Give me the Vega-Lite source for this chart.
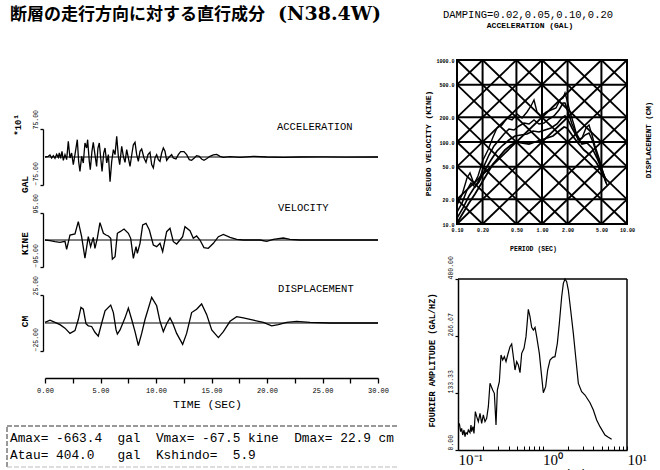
{
  "$schema": "https://vega.github.io/schema/vega-lite/v6.json",
  "width": 660,
  "height": 470,
  "autosize": "none",
  "padding": 0,
  "background": "white",
  "config": {
    "view": {"stroke": null},
    "axis": {
      "labelColor": "black",
      "titleColor": "black",
      "domainColor": "black",
      "tickColor": "black",
      "labelFont": "Liberation Mono",
      "titleFont": "Liberation Mono",
      "grid": false,
      "labelFlush": false,
      "labelOverlap": false,
      "labelBound": false,
      "titleFontWeight": "normal"
    },
    "text": {"font": "Liberation Mono", "color": "black"},
    "line": {"color": "black"},
    "rule": {"color": "black"}
  },
  "datasets": {
    "accel": [
      {"t":0,"a":0},{"t":0.3,"a":1.8},{"t":0.45,"a":5.4},{"t":0.6,"a":-2.7},{"t":0.75,"a":3.6},{"t":0.9,"a":-3.6},
      {"t":1.05,"a":7.1},{"t":1.2,"a":-0.9},{"t":1.29,"a":10.7},{"t":1.41,"a":-3.6},{"t":1.53,"a":15.2},{"t":1.65,"a":-8.9},
      {"t":1.8,"a":6.3},{"t":1.95,"a":-7.1},{"t":2.1,"a":42},{"t":2.25,"a":-2.7},{"t":2.4,"a":10.7},{"t":2.55,"a":-20.5},
      {"t":2.7,"a":6.3},{"t":2.91,"a":46.4},{"t":3.03,"a":-11.6},{"t":3.15,"a":-38.4},{"t":3.3,"a":1.8},{"t":3.45,"a":-16},
      {"t":3.6,"a":37.5},{"t":3.75,"a":24},{"t":3.84,"a":46.4},{"t":3.99,"a":-11.6},{"t":4.08,"a":-34},{"t":4.23,"a":15.2},
      {"t":4.35,"a":39.3},{"t":4.5,"a":6.3},{"t":4.65,"a":-25},{"t":4.77,"a":24},{"t":4.89,"a":37.5},{"t":5.02,"a":-2.7},
      {"t":5.14,"a":-38.4},{"t":5.29,"a":10.7},{"t":5.41,"a":24},{"t":5.56,"a":-16},{"t":5.71,"a":6.3},{"t":5.86,"a":-66.34},
      {"t":6.01,"a":-11.6},{"t":6.16,"a":19.6},{"t":6.31,"a":6.3},{"t":6.46,"a":55.4},{"t":6.61,"a":1.8},{"t":6.73,"a":-20.5},
      {"t":6.91,"a":28.6},{"t":7.06,"a":1.8},{"t":7.21,"a":-14.3},{"t":7.36,"a":19.6},{"t":7.54,"a":-7.1},{"t":7.66,"a":-25},
      {"t":7.84,"a":10.7},{"t":7.96,"a":33},{"t":8.11,"a":39.3},{"t":8.26,"a":6.3},{"t":8.41,"a":-11.6},{"t":8.56,"a":15.2},
      {"t":8.71,"a":21.4},{"t":8.92,"a":-2.7},{"t":9.1,"a":-14.3},{"t":9.28,"a":6.3},{"t":9.46,"a":12.5},{"t":9.61,"a":-20.5},
      {"t":9.76,"a":-29.5},{"t":9.91,"a":-2.7},{"t":10.06,"a":6.3},{"t":10.21,"a":-7.1},{"t":10.36,"a":-11.6},{"t":10.51,"a":10.7},
      {"t":10.66,"a":24},{"t":10.81,"a":15.2},{"t":10.96,"a":-8.9},{"t":11.11,"a":-2.7},{"t":11.26,"a":1.8},{"t":11.41,"a":6.3},
      {"t":11.56,"a":-2.7},{"t":11.8,"a":-5.4},{"t":12.01,"a":6.3},{"t":12.22,"a":14.3},{"t":12.52,"a":14.3},{"t":12.76,"a":6.3},
      {"t":13.0,"a":-7.1},{"t":13.21,"a":-8.9},{"t":13.45,"a":-2.7},{"t":13.66,"a":3.6},{"t":13.9,"a":1.8},{"t":14.11,"a":-5.4},
      {"t":14.32,"a":-8.9},{"t":14.56,"a":-4.5},{"t":14.86,"a":1.8},{"t":15.17,"a":5.4},{"t":15.47,"a":7.1},{"t":15.77,"a":1.8},
      {"t":16.07,"a":-0.9},{"t":16.67,"a":0.9},{"t":17.57,"a":-0.9},{"t":18.77,"a":1.8},{"t":19.97,"a":0},{"t":21.47,"a":-0.9},
      {"t":22.97,"a":0},{"t":25,"a":0.5},{"t":27,"a":-0.3},{"t":30,"a":0}
    ],
    "vel": [
      {"t":0,"v":0},{"t":0.45,"v":-2.3},{"t":0.9,"v":-5.9},{"t":1.35,"v":-8.2},{"t":1.8,"v":-4.7},{"t":1.95,"v":-32.8},
      {"t":2.25,"v":17.6},{"t":2.7,"v":21.1},{"t":3.0,"v":64.5},{"t":3.3,"v":11.7},{"t":3.6,"v":-64},{"t":3.9,"v":11.7},
      {"t":4.11,"v":-23.5},{"t":4.35,"v":9.4},{"t":4.5,"v":-29.3},{"t":4.71,"v":5.9},{"t":4.95,"v":61},{"t":5.26,"v":23.5},
      {"t":5.5,"v":17.6},{"t":5.71,"v":14.1},{"t":5.92,"v":5.9},{"t":6.07,"v":-67.5},{"t":6.31,"v":-58.7},{"t":6.52,"v":23.5},
      {"t":6.76,"v":29.3},{"t":7.12,"v":38.7},{"t":7.51,"v":23.5},{"t":7.72,"v":5.9},{"t":7.96,"v":-64.5},{"t":8.2,"v":-23.5},
      {"t":8.32,"v":-46.9},{"t":8.56,"v":-11.7},{"t":8.8,"v":52.8},{"t":9.1,"v":58.7},{"t":9.4,"v":35.2},{"t":9.76,"v":-17.6},
      {"t":10.06,"v":-23.5},{"t":10.36,"v":-11.7},{"t":10.6,"v":-41},{"t":10.96,"v":29.3},{"t":11.26,"v":41},{"t":11.56,"v":-5.9},
      {"t":11.86,"v":-14.1},{"t":12.16,"v":0},{"t":12.4,"v":11.7},{"t":12.61,"v":46.9},{"t":13.06,"v":32.8},{"t":13.36,"v":5.9},
      {"t":13.66,"v":14.1},{"t":13.96,"v":0},{"t":14.32,"v":-27},{"t":14.71,"v":-29.3},{"t":15.17,"v":-11.7},{"t":15.62,"v":11.7},
      {"t":16.07,"v":19.9},{"t":16.67,"v":9.4},{"t":17.27,"v":2.3},{"t":17.87,"v":0},{"t":19.37,"v":0},{"t":19.97,"v":-4.7},
      {"t":20.57,"v":2.3},{"t":21.47,"v":7},{"t":22.07,"v":2.3},{"t":22.97,"v":0},{"t":25.68,"v":0},{"t":30,"v":0}
    ],
    "disp": [
      {"t":0,"d":0.6},{"t":0.45,"d":2.5},{"t":0.9,"d":0.6},{"t":1.35,"d":-1.5},{"t":1.8,"d":-4.6},{"t":2.25,"d":-9.3},
      {"t":2.7,"d":-6.8},{"t":3.0,"d":3.1},{"t":3.24,"d":13.9},{"t":3.45,"d":12.3},{"t":3.69,"d":-0.6},{"t":3.9,"d":-2.5},
      {"t":4.2,"d":-3.1},{"t":4.5,"d":-8.3},{"t":4.8,"d":-11.7},{"t":5.11,"d":0},{"t":5.41,"d":10.8},{"t":5.92,"d":16},
      {"t":6.16,"d":9.3},{"t":6.4,"d":-6.2},{"t":6.52,"d":-9.9},{"t":6.76,"d":-6.2},{"t":7.21,"d":4.6},{"t":7.51,"d":13.3},
      {"t":7.81,"d":3.1},{"t":8.11,"d":-7.7},{"t":8.41,"d":-20.1},{"t":8.71,"d":-9.3},{"t":9.01,"d":3.1},{"t":9.61,"d":22.9},
      {"t":10.06,"d":15.4},{"t":10.36,"d":1.5},{"t":10.66,"d":-7.7},{"t":10.96,"d":-0.6},{"t":11.26,"d":4.6},{"t":11.5,"d":0},
      {"t":11.86,"d":-9.3},{"t":12.4,"d":-19.1},{"t":12.76,"d":-9.3},{"t":13.21,"d":9.3},{"t":13.66,"d":12.3},{"t":14.11,"d":17},
      {"t":14.56,"d":7.7},{"t":15.02,"d":-6.2},{"t":15.62,"d":-13},{"t":16.07,"d":-7.7},{"t":16.67,"d":1.5},{"t":17.27,"d":5.6},
      {"t":17.87,"d":4.6},{"t":18.77,"d":2.5},{"t":19.67,"d":0.6},{"t":20.42,"d":-2.5},{"t":21.02,"d":-1.5},{"t":21.77,"d":0.6},
      {"t":22.67,"d":1.5},{"t":23.87,"d":0.6},{"t":25.68,"d":0},{"t":30,"d":0}
    ],
    "gridT": [{"T":0.1},{"T":0.2},{"T":0.5},{"T":1},{"T":2},{"T":5},{"T":10}],
    "gridV": [{"V":10},{"V":20},{"V":50},{"V":100},{"V":200},{"V":500},{"V":1000}],
    "diag": [
      {"g":"A2","T":5,"V":10},{"g":"A2","T":10,"V":20},
      {"g":"A5","T":2,"V":10},{"g":"A5","T":10,"V":50},
      {"g":"A10","T":1,"V":10},{"g":"A10","T":10,"V":100},
      {"g":"A20","T":0.5,"V":10},{"g":"A20","T":10,"V":200},
      {"g":"A50","T":0.2,"V":10},{"g":"A50","T":10,"V":500},
      {"g":"A100","T":0.1,"V":10},{"g":"A100","T":10,"V":1000},
      {"g":"A200","T":0.1,"V":20},{"g":"A200","T":5,"V":1000},
      {"g":"A500","T":0.1,"V":50},{"g":"A500","T":2,"V":1000},
      {"g":"A1000","T":0.1,"V":100},{"g":"A1000","T":1,"V":1000},
      {"g":"A2000","T":0.1,"V":200},{"g":"A2000","T":0.5,"V":1000},
      {"g":"A5000","T":0.1,"V":500},{"g":"A5000","T":0.2,"V":1000},
      {"g":"D2","T":0.1,"V":20},{"g":"D2","T":0.2,"V":10},
      {"g":"D5","T":0.1,"V":50},{"g":"D5","T":0.5,"V":10},
      {"g":"D10","T":0.1,"V":100},{"g":"D10","T":1,"V":10},
      {"g":"D20","T":0.1,"V":200},{"g":"D20","T":2,"V":10},
      {"g":"D50","T":0.1,"V":500},{"g":"D50","T":5,"V":10},
      {"g":"D100","T":0.1,"V":1000},{"g":"D100","T":10,"V":10},
      {"g":"D200","T":0.2,"V":1000},{"g":"D200","T":10,"V":20},
      {"g":"D500","T":0.5,"V":1000},{"g":"D500","T":10,"V":50},
      {"g":"D1000","T":1,"V":1000},{"g":"D1000","T":10,"V":100},
      {"g":"D2000","T":2,"V":1000},{"g":"D2000","T":10,"V":200},
      {"g":"D5000","T":5,"V":1000},{"g":"D5000","T":10,"V":500}
    ],
    "psv": [
      {"h":"0.02","T":0.1,"V":17.0},{"h":"0.02","T":0.1145,"V":22.6},{"h":"0.02","T":0.1311,"V":36.4},{"h":"0.02","T":0.1422,"V":41.9},
      {"h":"0.02","T":0.1585,"V":30.7},{"h":"0.02","T":0.1766,"V":38.5},{"h":"0.02","T":0.2023,"V":60.3},{"h":"0.02","T":0.2315,"V":79.9},
      {"h":"0.02","T":0.2652,"V":115.1},{"h":"0.02","T":0.2955,"V":148.2},{"h":"0.02","T":0.3384,"V":161.2},{"h":"0.02","T":0.3875,"V":196.2},
      {"h":"0.02","T":0.4437,"V":185.5},{"h":"0.02","T":0.508,"V":219.5},{"h":"0.02","T":0.5817,"V":196.2},{"h":"0.02","T":0.6661,"V":232.2},
      {"h":"0.02","T":0.7422,"V":274.8},{"h":"0.02","T":0.8052,"V":325.2},{"h":"0.02","T":0.8733,"V":232.2},{"h":"0.02","T":0.9733,"V":207.6},
      {"h":"0.02","T":1.1144,"V":232.2},{"h":"0.02","T":1.2761,"V":245.6},{"h":"0.02","T":1.4613,"V":259.8},{"h":"0.02","T":1.6285,"V":325.2},
      {"h":"0.02","T":1.7664,"V":344.1},{"h":"0.02","T":1.8648,"V":396},{"h":"0.02","T":1.9686,"V":325.2},{"h":"0.02","T":2.1353,"V":232.2},
      {"h":"0.02","T":2.3797,"V":161.2},{"h":"0.02","T":2.6519,"V":105.8},{"h":"0.02","T":2.9554,"V":111.9},{"h":"0.02","T":3.2937,"V":148.2},
      {"h":"0.02","T":3.5727,"V":161.2},{"h":"0.02","T":3.8751,"V":121.7},{"h":"0.02","T":4.2026,"V":89.4},{"h":"0.02","T":4.6837,"V":63.8},
      {"h":"0.02","T":5.2197,"V":43.1},{"h":"0.02","T":5.6617,"V":31.6},
      {"h":"0.05","T":0.1,"V":14.0},{"h":"0.05","T":0.1145,"V":18.0},{"h":"0.05","T":0.1311,"V":26.0},{"h":"0.05","T":0.1461,"V":31.6},
      {"h":"0.05","T":0.1628,"V":28.3},{"h":"0.05","T":0.1815,"V":34.4},{"h":"0.05","T":0.2078,"V":50.9},{"h":"0.05","T":0.2379,"V":69.4},
      {"h":"0.05","T":0.2724,"V":89.4},{"h":"0.05","T":0.312,"V":105.8},{"h":"0.05","T":0.3573,"V":125.2},{"h":"0.05","T":0.4091,"V":144.1},
      {"h":"0.05","T":0.4684,"V":140.1},{"h":"0.05","T":0.5363,"V":156.7},{"h":"0.05","T":0.614,"V":170.5},{"h":"0.05","T":0.7032,"V":165.8},
      {"h":"0.05","T":0.8052,"V":185.5},{"h":"0.05","T":0.922,"V":165.8},{"h":"0.05","T":1.0556,"V":170.5},{"h":"0.05","T":1.2088,"V":190.8},
      {"h":"0.05","T":1.3842,"V":207.6},{"h":"0.05","T":1.5849,"V":245.6},{"h":"0.05","T":1.7664,"V":299},{"h":"0.05","T":1.8648,"V":299},
      {"h":"0.05","T":2.0227,"V":232.2},{"h":"0.05","T":2.2542,"V":165.8},{"h":"0.05","T":2.5119,"V":128.8},{"h":"0.05","T":2.7996,"V":105.8},
      {"h":"0.05","T":3.2057,"V":121.7},{"h":"0.05","T":3.5727,"V":128.8},{"h":"0.05","T":3.9811,"V":100},{"h":"0.05","T":4.4367,"V":69.4},
      {"h":"0.05","T":4.9443,"V":48.2},{"h":"0.05","T":5.5103,"V":34.4},{"h":"0.05","T":5.8172,"V":29.9},
      {"h":"0.10","T":0.1,"V":11.8},{"h":"0.10","T":0.1177,"V":15.7},{"h":"0.10","T":0.1384,"V":22.0},{"h":"0.10","T":0.1585,"V":27.5},
      {"h":"0.10","T":0.1815,"V":32.5},{"h":"0.10","T":0.2135,"V":45.6},{"h":"0.10","T":0.2512,"V":60.3},{"h":"0.10","T":0.2955,"V":77.7},
      {"h":"0.10","T":0.3477,"V":91.9},{"h":"0.10","T":0.4091,"V":105.8},{"h":"0.10","T":0.4812,"V":118.4},{"h":"0.10","T":0.5662,"V":121.7},
      {"h":"0.10","T":0.6661,"V":125.2},{"h":"0.10","T":0.7837,"V":136.2},{"h":"0.10","T":0.922,"V":132.4},{"h":"0.10","T":1.0846,"V":140.1},
      {"h":"0.10","T":1.2761,"V":148.2},{"h":"0.10","T":1.5014,"V":165.8},{"h":"0.10","T":1.7192,"V":196.2},{"h":"0.10","T":1.8648,"V":207.6},
      {"h":"0.10","T":2.0227,"V":185.5},{"h":"0.10","T":2.2542,"V":148.2},{"h":"0.10","T":2.581,"V":115.1},{"h":"0.10","T":2.9554,"V":94.5},
      {"h":"0.10","T":3.3843,"V":97.2},{"h":"0.10","T":3.8751,"V":84.5},{"h":"0.10","T":4.4367,"V":63.8},{"h":"0.10","T":5.0802,"V":45.6},
      {"h":"0.10","T":5.6617,"V":34.4},
      {"h":"0.20","T":0.1,"V":10.3},{"h":"0.20","T":0.1177,"V":13.6},{"h":"0.20","T":0.1384,"V":18.0},{"h":"0.20","T":0.1628,"V":23.2},
      {"h":"0.20","T":0.1917,"V":30.7},{"h":"0.20","T":0.2254,"V":40.7},{"h":"0.20","T":0.2652,"V":53.9},{"h":"0.20","T":0.312,"V":65.6},
      {"h":"0.20","T":0.367,"V":79.9},{"h":"0.20","T":0.4318,"V":91.9},{"h":"0.20","T":0.508,"V":100},{"h":"0.20","T":0.5976,"V":97.2},
      {"h":"0.20","T":0.7032,"V":94.5},{"h":"0.20","T":0.8272,"V":100},{"h":"0.20","T":0.9733,"V":105.8},{"h":"0.20","T":1.145,"V":111.9},
      {"h":"0.20","T":1.3472,"V":118.4},{"h":"0.20","T":1.5849,"V":136.2},{"h":"0.20","T":1.8149,"V":152.4},{"h":"0.20","T":1.9686,"V":148.2},
      {"h":"0.20","T":2.2542,"V":121.7},{"h":"0.20","T":2.6519,"V":97.2},{"h":"0.20","T":3.1199,"V":79.9},{"h":"0.20","T":3.6708,"V":69.4},
      {"h":"0.20","T":4.3181,"V":57.0},{"h":"0.20","T":5.0802,"V":43.1},{"h":"0.20","T":5.6617,"V":34.4}
    ],
    "fourier": [
      {"f":0.1037,"A":62.4},{"f":0.1075,"A":42.9},{"f":0.1105,"A":50.7},{"f":0.1136,"A":35.1},{"f":0.1178,"A":46.8},
      {"f":0.121,"A":31.2},{"f":0.1243,"A":40.5},{"f":0.1289,"A":37.4},{"f":0.1325,"A":46.8},{"f":0.1387,"A":40.5},
      {"f":0.1425,"A":58.5},{"f":0.145,"A":42.9},{"f":0.1504,"A":54.6},{"f":0.1546,"A":38.6},{"f":0.1604,"A":89.7},
      {"f":0.1664,"A":78},{"f":0.174,"A":66.3},{"f":0.1822,"A":85.8},{"f":0.1906,"A":62.4},{"f":0.1994,"A":81.9},
      {"f":0.2087,"A":66.3},{"f":0.2184,"A":74},{"f":0.2286,"A":101.3},{"f":0.2392,"A":156},{"f":0.2573,"A":140.3},
      {"f":0.2692,"A":132.6},{"f":0.2818,"A":58.5},{"f":0.2922,"A":140.3},{"f":0.3085,"A":159.8},{"f":0.3229,"A":222.2},
      {"f":0.3379,"A":210.5},{"f":0.3535,"A":218.3},{"f":0.3699,"A":206.6},{"f":0.3872,"A":222.2},{"f":0.4126,"A":241.7},
      {"f":0.4318,"A":247.9},{"f":0.4518,"A":218.3},{"f":0.4729,"A":187.1},{"f":0.4949,"A":206.6},{"f":0.5179,"A":198.8},
      {"f":0.5419,"A":180.9},{"f":0.5672,"A":226.1},{"f":0.6041,"A":237.8},{"f":0.6379,"A":265.1},{"f":0.6796,"A":329},
      {"f":0.7114,"A":311.9},{"f":0.7444,"A":286.9},{"f":0.7792,"A":280.7},{"f":0.8155,"A":286.9},{"f":0.8531,"A":265.1},
      {"f":0.9173,"A":226.1},{"f":0.9775,"A":171.5},{"f":1.0228,"A":134.1},{"f":1.0901,"A":148.1},{"f":1.1508,"A":187.1},
      {"f":1.2268,"A":210.5},{"f":1.3195,"A":216.8},{"f":1.4058,"A":218.3},{"f":1.4983,"A":249.5},{"f":1.5821,"A":296.3},
      {"f":1.6866,"A":358.6},{"f":1.7649,"A":389.8},{"f":1.8468,"A":400},{"f":1.932,"A":393.7},{"f":2.0217,"A":374.2},
      {"f":2.1544,"A":327.5},{"f":2.3173,"A":272.9},{"f":2.4918,"A":210.5},{"f":2.6556,"A":155.9},{"f":2.9076,"A":136.5},
      {"f":3.1842,"A":128.6},{"f":3.6488,"A":110.7},{"f":3.9958,"A":93.6},{"f":4.3752,"A":70.2},{"f":4.7915,"A":54.6},
      {"f":5.4904,"A":35.1},{"f":6.0117,"A":29.6},{"f":6.5826,"A":24.9}
    ],
    "stats": [
      {"line": 1, "text": "Amax= -663.4\u00a0\u00a0gal\u00a0\u00a0Vmax= -67.5 kine\u00a0\u00a0Dmax= 22.9 cm"},
      {"line": 2, "text": "Atau= 404.0\u00a0\u00a0\u00a0gal\u00a0\u00a0Kshindo=\u00a0\u00a05.9"}
    ],
    "heading": [
      {"part": "jp", "text": "断層の走行方向に対する直行成分"},
      {"part": "code", "text": "(N38.4W)"}
    ]
  },
  "layer": [
    {
      "layer": [
        {
          "data": {"values": [{"ref": "zero"}]},
          "mark": {"type": "rule", "strokeWidth": 1},
          "encoding": {
            "x": {"datum": 0, "type": "quantitative", "scale": {"domain": [0, 30], "range": [45, 378], "nice": false, "zero": false}, "axis": null},
            "x2": {"datum": 30},
            "y": {"datum": 0, "type": "quantitative", "scale": {"domain": [-75, 75], "range": [185, 129], "nice": false, "zero": false}}
          }
        },
        {
          "data": {"name": "accel"},
          "mark": {"type": "line", "strokeWidth": 1.3, "color": "black"},
          "encoding": {
            "x": {"field": "t", "type": "quantitative", "scale": {"domain": [0, 30], "range": [45, 378], "nice": false, "zero": false}, "axis": null},
            "y": {
              "field": "a", "type": "quantitative",
              "scale": {"domain": [-75, 75], "range": [185, 129], "nice": false, "zero": false},
              "axis": {
                "orient": "left", "offset": -43, "values": [-75, 75], "format": ".2f",
                "labelAngle": 270, "labelAlign": "left", "labelBaseline": "bottom", "labelFontSize": 6.5, "labelPadding": 2,
                "tickSize": 3, "tickWidth": 1.3, "domainWidth": 1.3,
                "title": "GAL", "titleAngle": 270, "titleX": -19, "titleY": 184, "titleAlign": "center", "titleBaseline": "middle",
                "titleFontSize": 9.5, "titleFontWeight": "bold"
              }
            }
          }
        },
        {
          "data": {"values": [{"label": "ACCELERATION"}]},
          "mark": {"type": "text", "align": "left", "baseline": "middle", "fontSize": 10.5},
          "encoding": {
            "x": {"datum": 20.9, "type": "quantitative", "scale": {"domain": [0, 30], "range": [45, 378], "nice": false, "zero": false}, "axis": null},
            "y": {"datum": 80, "type": "quantitative", "scale": {"domain": [-75, 75], "range": [185, 129], "nice": false, "zero": false}},
            "text": {"field": "label"}
          }
        },
        {
          "data": {"values": [{"label": "*10¹"}]},
          "mark": {"type": "text", "align": "center", "baseline": "middle", "angle": 270, "fontSize": 9, "fontWeight": "bold"},
          "encoding": {
            "x": {"datum": -2.4, "type": "quantitative", "scale": {"domain": [0, 30], "range": [45, 378], "nice": false, "zero": false}, "axis": null},
            "y": {"datum": 86, "type": "quantitative", "scale": {"domain": [-75, 75], "range": [185, 129], "nice": false, "zero": false}},
            "text": {"field": "label"}
          }
        },
        {
          "data": {"name": "heading"},
          "transform": [{"filter": "datum.part === 'jp'"}],
          "mark": {"type": "text", "align": "left", "baseline": "alphabetic", "fontSize": 17, "fontWeight": "bold", "font": "Noto Sans CJK JP"},
          "encoding": {
            "x": {"datum": -3.15, "type": "quantitative", "scale": {"domain": [0, 30], "range": [45, 378], "nice": false, "zero": false}, "axis": null},
            "y": {"datum": 367, "type": "quantitative", "scale": {"domain": [-75, 75], "range": [185, 129], "nice": false, "zero": false}},
            "text": {"field": "text"}
          }
        },
        {
          "data": {"name": "heading"},
          "transform": [{"filter": "datum.part === 'code'"}],
          "mark": {"type": "text", "align": "left", "baseline": "alphabetic", "fontSize": 19, "fontWeight": "bold", "font": "DejaVu Serif"},
          "encoding": {
            "x": {"datum": 21.0, "type": "quantitative", "scale": {"domain": [0, 30], "range": [45, 378], "nice": false, "zero": false}, "axis": null},
            "y": {"datum": 367, "type": "quantitative", "scale": {"domain": [-75, 75], "range": [185, 129], "nice": false, "zero": false}},
            "text": {"field": "text"}
          }
        }
      ]
    },
    {
      "layer": [
        {
          "data": {"values": [{"ref": "zero"}]},
          "mark": {"type": "rule", "strokeWidth": 1},
          "encoding": {
            "x": {"datum": 0, "type": "quantitative", "scale": {"domain": [0, 30], "range": [45, 378], "nice": false, "zero": false}, "axis": null},
            "x2": {"datum": 30},
            "y": {"datum": 0, "type": "quantitative", "scale": {"domain": [-95, 95], "range": [267, 213], "nice": false, "zero": false}}
          }
        },
        {
          "data": {"name": "vel"},
          "mark": {"type": "line", "strokeWidth": 1.3, "color": "black"},
          "encoding": {
            "x": {"field": "t", "type": "quantitative", "scale": {"domain": [0, 30], "range": [45, 378], "nice": false, "zero": false}, "axis": null},
            "y": {
              "field": "v", "type": "quantitative",
              "scale": {"domain": [-95, 95], "range": [267, 213], "nice": false, "zero": false},
              "axis": {
                "orient": "left", "offset": -43, "values": [-95, 95], "format": ".2f",
                "labelAngle": 270, "labelAlign": "left", "labelBaseline": "bottom", "labelFontSize": 6.5, "labelPadding": 2,
                "tickSize": 3, "tickWidth": 1.3, "domainWidth": 1.3,
                "title": "KINE", "titleAngle": 270, "titleX": -19, "titleY": 243, "titleAlign": "center", "titleBaseline": "middle",
                "titleFontSize": 9.5, "titleFontWeight": "bold"
              }
            }
          }
        },
        {
          "data": {"values": [{"label": "VELOCITY"}]},
          "mark": {"type": "text", "align": "left", "baseline": "middle", "fontSize": 10.5},
          "encoding": {
            "x": {"datum": 21, "type": "quantitative", "scale": {"domain": [0, 30], "range": [45, 378], "nice": false, "zero": false}, "axis": null},
            "y": {"datum": 112, "type": "quantitative", "scale": {"domain": [-95, 95], "range": [267, 213], "nice": false, "zero": false}},
            "text": {"field": "label"}
          }
        }
      ]
    },
    {
      "layer": [
        {
          "data": {"values": [{"ref": "zero"}]},
          "mark": {"type": "rule", "strokeWidth": 1},
          "encoding": {
            "x": {"datum": 0, "type": "quantitative", "scale": {"domain": [0, 30], "range": [45, 378], "nice": false, "zero": false}},
            "x2": {"datum": 30},
            "y": {"datum": 0, "type": "quantitative", "scale": {"domain": [-25, 25], "range": [351, 295], "nice": false, "zero": false}}
          }
        },
        {
          "data": {"name": "disp"},
          "mark": {"type": "line", "strokeWidth": 1.3, "color": "black"},
          "encoding": {
            "x": {
              "field": "t", "type": "quantitative",
              "scale": {"domain": [0, 30], "range": [45, 378], "nice": false, "zero": false},
              "axis": {
                "orient": "bottom", "offset": -92,
                "values": [0, 2.5, 5, 7.5, 10, 12.5, 15, 17.5, 20, 22.5, 25, 27.5, 30],
                "labelExpr": "datum.value % 5 === 0 ? format(datum.value, '.2f') : ''",
                "labelFontSize": 7, "labelPadding": 3, "tickSize": 5, "tickWidth": 1.3, "domainWidth": 1.5,
                "title": "TIME (SEC)", "titleX": 207, "titleY": 26, "titleAlign": "center", "titleBaseline": "middle", "titleFontSize": 11.5
              }
            },
            "y": {
              "field": "d", "type": "quantitative",
              "scale": {"domain": [-25, 25], "range": [351, 295], "nice": false, "zero": false},
              "axis": {
                "orient": "left", "offset": -43, "values": [-25, 25], "format": ".2f",
                "labelAngle": 270, "labelAlign": "left", "labelBaseline": "bottom", "labelFontSize": 6.5, "labelPadding": 2,
                "tickSize": 3, "tickWidth": 1.3, "domainWidth": 1.3,
                "title": "CM", "titleAngle": 270, "titleX": -19, "titleY": 321, "titleAlign": "center", "titleBaseline": "middle",
                "titleFontSize": 9.5, "titleFontWeight": "bold"
              }
            }
          }
        },
        {
          "data": {"values": [{"label": "DISPLACEMENT"}]},
          "mark": {"type": "text", "align": "left", "baseline": "middle", "fontSize": 10.5},
          "encoding": {
            "x": {"datum": 21, "type": "quantitative", "scale": {"domain": [0, 30], "range": [45, 378], "nice": false, "zero": false}},
            "y": {"datum": 30.6, "type": "quantitative", "scale": {"domain": [-25, 25], "range": [351, 295], "nice": false, "zero": false}},
            "text": {"field": "label"}
          }
        }
      ]
    },
    {
      "data": {"values": [{"edge": "top", "x0": 0, "x1": 1, "y0": 1, "y1": 1, "dash": "dark"}, {"edge": "left", "x0": 0, "x1": 0, "y0": 0, "y1": 1, "dash": "dark"}, {"edge": "bottom", "x0": 0, "x1": 1, "y0": 0, "y1": 0, "dash": "light"}]},
      "mark": {"type": "rule", "strokeWidth": 1, "strokeDash": [5, 2]},
      "encoding": {
        "x": {"field": "x0", "type": "quantitative", "scale": {"domain": [0, 1], "range": [7, 397], "nice": false, "zero": false}, "axis": null},
        "x2": {"field": "x1"},
        "y": {"field": "y0", "type": "quantitative", "scale": {"domain": [0, 1], "range": [467, 426], "nice": false, "zero": false}, "axis": null},
        "y2": {"field": "y1"},
        "color": {"field": "dash", "type": "nominal", "scale": {"domain": ["dark", "light"], "range": ["#333333", "#bbbbbb"]}, "legend": null}
      }
    },
    {
      "data": {"name": "stats"},
      "mark": {"type": "text", "align": "left", "baseline": "middle", "fontSize": 12.8, "font": "Liberation Mono"},
      "encoding": {
        "x": {"datum": 0, "type": "quantitative", "scale": {"domain": [0, 1], "range": [10, 397], "nice": false, "zero": false}, "axis": null},
        "y": {"field": "line", "type": "ordinal", "scale": {"type": "point", "domain": [1, 2], "range": [438, 455], "padding": 0}, "axis": null},
        "text": {"field": "text"}
      }
    },
    {
      "layer": [
        {
          "data": {"name": "gridT"},
          "mark": {"type": "rule", "strokeWidth": 2, "strokeCap": "square"},
          "encoding": {
            "x": {
              "field": "T", "type": "quantitative",
              "scale": {"type": "log", "domain": [0.1, 10], "range": [457, 627], "nice": false},
              "axis": {
                "orient": "bottom", "offset": -246, "values": [0.1, 0.2, 0.5, 1, 2, 5, 10], "format": ".2f",
                "labelFontSize": 5, "labelFontWeight": "bold", "labelPadding": 3, "ticks": false, "tickSize": 0, "domain": false,
                "title": "PERIOD (SEC)", "titleX": 533, "titleY": 24, "titleAlign": "center", "titleBaseline": "middle",
                "titleFontSize": 6.5, "titleFontWeight": "bold"
              }
            },
            "y": {"datum": 10, "type": "quantitative", "scale": {"type": "log", "domain": [10, 1000], "range": [224, 60], "nice": false}},
            "y2": {"datum": 1000}
          }
        },
        {
          "data": {"name": "gridV"},
          "mark": {"type": "rule", "strokeWidth": 2, "strokeCap": "square"},
          "encoding": {
            "y": {
              "field": "V", "type": "quantitative",
              "scale": {"type": "log", "domain": [10, 1000], "range": [224, 60], "nice": false},
              "axis": {
                "orient": "left", "offset": -457, "values": [10, 20, 50, 100, 200, 500, 1000], "format": ".1f",
                "labelFontSize": 5, "labelFontWeight": "bold", "labelPadding": 3, "ticks": false, "tickSize": 0, "domain": false,
                "title": "PSEUDO VELOCITY (KINE)", "titleAngle": 270, "titleX": -29, "titleY": 143, "titleAlign": "center",
                "titleBaseline": "middle", "titleFontSize": 8, "titleFontWeight": "bold"
              }
            },
            "x": {"datum": 0.1, "type": "quantitative", "scale": {"type": "log", "domain": [0.1, 10], "range": [457, 627], "nice": false}},
            "x2": {"datum": 10}
          }
        },
        {
          "data": {"name": "diag"},
          "mark": {"type": "line", "strokeWidth": 1.8, "color": "black"},
          "encoding": {
            "x": {"field": "T", "type": "quantitative", "scale": {"type": "log", "domain": [0.1, 10], "range": [457, 627], "nice": false}},
            "y": {"field": "V", "type": "quantitative", "scale": {"type": "log", "domain": [10, 1000], "range": [224, 60], "nice": false}},
            "detail": {"field": "g"}
          }
        },
        {
          "data": {"name": "psv"},
          "mark": {"type": "line", "color": "black"},
          "encoding": {
            "x": {"field": "T", "type": "quantitative", "scale": {"type": "log", "domain": [0.1, 10], "range": [457, 627], "nice": false}},
            "y": {"field": "V", "type": "quantitative", "scale": {"type": "log", "domain": [10, 1000], "range": [224, 60], "nice": false}},
            "detail": {"field": "h"},
            "strokeWidth": {"field": "h", "type": "ordinal", "scale": {"domain": ["0.02", "0.05", "0.10", "0.20"], "range": [1.4, 1.8, 2.2, 2.8]}, "legend": null}
          }
        },
        {
          "data": {"values": [{"label": "DAMPING=0.02,0.05,0.10,0.20"}]},
          "mark": {"type": "text", "align": "center", "baseline": "middle", "fontSize": 10.5},
          "encoding": {
            "x": {"datum": 0.684, "type": "quantitative", "scale": {"type": "log", "domain": [0.1, 10], "range": [457, 627], "nice": false}},
            "y": {"datum": 3540, "type": "quantitative", "scale": {"type": "log", "domain": [10, 1000], "range": [224, 60], "nice": false}},
            "text": {"field": "label"}
          }
        },
        {
          "data": {"values": [{"label": "ACCELERATION (GAL)"}]},
          "mark": {"type": "text", "align": "center", "baseline": "middle", "fontSize": 8, "fontWeight": "bold"},
          "encoding": {
            "x": {"datum": 0.723, "type": "quantitative", "scale": {"type": "log", "domain": [0.1, 10], "range": [457, 627], "nice": false}},
            "y": {"datum": 2600, "type": "quantitative", "scale": {"type": "log", "domain": [10, 1000], "range": [224, 60], "nice": false}},
            "text": {"field": "label"}
          }
        },
        {
          "data": {"values": [{"label": "DISPLACEMENT (CM)"}]},
          "mark": {"type": "text", "align": "center", "baseline": "middle", "angle": 270, "fontSize": 7.5, "fontWeight": "bold"},
          "encoding": {
            "x": {"datum": 18.2, "type": "quantitative", "scale": {"type": "log", "domain": [0.1, 10], "range": [457, 627], "nice": false}},
            "y": {"datum": 106, "type": "quantitative", "scale": {"type": "log", "domain": [10, 1000], "range": [224, 60], "nice": false}},
            "text": {"field": "label"}
          }
        }
      ]
    },
    {
      "layer": [
        {
          "data": {"values": [{"edge": "top"}]},
          "mark": {"type": "rule", "strokeWidth": 1.5},
          "encoding": {
            "x": {"datum": 0.1, "type": "quantitative", "scale": {"type": "log", "domain": [0.1, 10], "range": [458, 627], "nice": false}},
            "x2": {"datum": 10},
            "y": {"datum": 400, "type": "quantitative", "scale": {"domain": [0, 400], "range": [450, 279], "nice": false, "zero": false}}
          }
        },
        {
          "data": {"values": [{"edge": "right"}]},
          "mark": {"type": "rule", "strokeWidth": 1.5},
          "encoding": {
            "x": {"datum": 10, "type": "quantitative", "scale": {"type": "log", "domain": [0.1, 10], "range": [458, 627], "nice": false}},
            "y": {"datum": 0, "type": "quantitative", "scale": {"domain": [0, 400], "range": [450, 279], "nice": false, "zero": false}},
            "y2": {"datum": 400}
          }
        },
        {
          "data": {"name": "fourier"},
          "mark": {"type": "line", "strokeWidth": 1.2, "color": "black"},
          "encoding": {
            "x": {
              "field": "f", "type": "quantitative",
              "scale": {"type": "log", "domain": [0.1, 10], "range": [458, 627], "nice": false},
              "axis": {
                "orient": "bottom", "offset": -20,
                "values": [0.1, 0.2, 0.3, 0.4, 0.5, 0.6, 0.7, 0.8, 0.9, 1, 2, 3, 4, 5, 6, 7, 8, 9, 10],
                "labelExpr": "datum.value == 0.1 ? '10⁻¹' : datum.value == 1 ? '10⁰' : datum.value == 10 ? '10¹' : ''",
                "labelFont": "Liberation Serif", "labelFontSize": 15, "labelAlign": "left", "labelPadding": 6,
                "tickSize": -4, "tickWidth": 1, "domainWidth": 1.5,
                "title": "FREQUENCY (HZ)", "titleX": 550, "titleY": 22, "titleAlign": "center", "titleBaseline": "middle",
                "titleFontSize": 8.5, "titleFontWeight": "bold"
              }
            },
            "y": {
              "field": "A", "type": "quantitative",
              "scale": {"domain": [0, 400], "range": [450, 279], "nice": false, "zero": false},
              "axis": {
                "orient": "left", "offset": -458, "values": [0, 133.33, 266.67, 400], "format": ".2f",
                "labelAngle": 270, "labelAlign": "left", "labelBaseline": "bottom", "labelFontSize": 6.5, "labelPadding": 2,
                "tickSize": 3, "tickWidth": 1.2, "domainWidth": 1.5,
                "title": "FOURIER AMPLITUDE (GAL/HZ)", "titleAngle": 270, "titleX": -27, "titleY": 360, "titleAlign": "center",
                "titleBaseline": "middle", "titleFontSize": 8.6, "titleFontWeight": "bold"
              }
            }
          }
        }
      ]
    }
  ],
  "resolve": {
    "scale": {"x": "independent", "y": "independent"},
    "axis": {"x": "independent", "y": "independent"}
  }
}
